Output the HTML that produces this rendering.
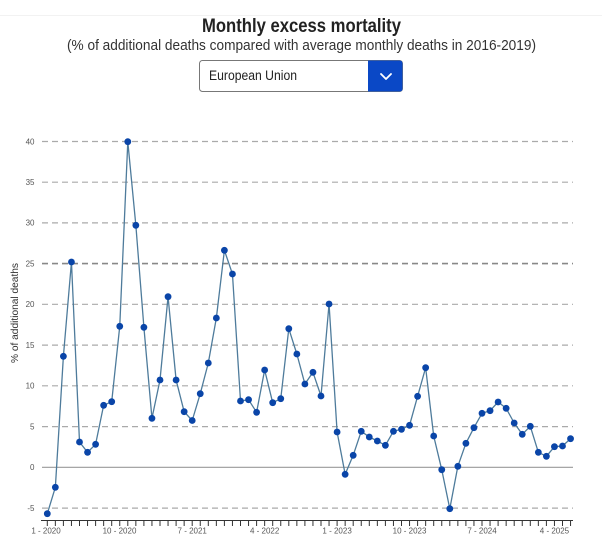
<!DOCTYPE html>
<html><head><meta charset="utf-8"><style>
html,body{margin:0;padding:0;background:#fff;}
svg{display:block;}
</style></head><body>
<svg width="602" height="537" viewBox="0 0 602 537" xmlns="http://www.w3.org/2000/svg" font-family="Liberation Sans, Arial, sans-serif">
<defs>
<marker id="dot" markerUnits="userSpaceOnUse" markerWidth="8" markerHeight="8" refX="4" refY="4" viewBox="0 0 8 8">
<circle cx="4" cy="4" r="3.4" fill="#0a45a8"/>
</marker>
</defs>
<rect width="602" height="537" fill="#fff"/>
<line x1="0" y1="15.5" x2="602" y2="15.5" stroke="#f2f2f2" stroke-width="1"/>
<text x="301.5" y="32" text-anchor="middle" font-size="19" font-weight="bold" fill="#222" textLength="199" lengthAdjust="spacingAndGlyphs">Monthly excess mortality</text>
<text x="301.5" y="50" text-anchor="middle" font-size="14.5" fill="#333" textLength="469" lengthAdjust="spacingAndGlyphs">(% of additional deaths compared with average monthly deaths in 2016-2019)</text>
<rect x="199.5" y="60.5" width="203" height="31" rx="3" ry="3" fill="#fff" stroke="#777" stroke-width="1"/>
<path d="M368 60.5 H399.5 Q402.5 60.5 402.5 63.5 V88.5 Q402.5 91.5 399.5 91.5 H368 Z" fill="#0a48c6"/>
<polyline points="381,74 386,79 391,74" fill="none" stroke="#fff" stroke-width="1.8" stroke-linecap="round" stroke-linejoin="round"/>
<text x="209" y="80" font-size="13.5" fill="#222" textLength="88" lengthAdjust="spacingAndGlyphs">European Union</text>
<g stroke="#aaa" stroke-width="1.2" stroke-dasharray="6,4">
<line x1="42" y1="141.5" x2="573" y2="141.5"/>
<line x1="42" y1="182.2" x2="573" y2="182.2"/>
<line x1="42" y1="222.9" x2="573" y2="222.9"/>
<line x1="42" y1="304.3" x2="573" y2="304.3"/>
<line x1="42" y1="345.1" x2="573" y2="345.1"/>
<line x1="42" y1="385.8" x2="573" y2="385.8"/>
<line x1="42" y1="426.6" x2="573" y2="426.6"/>
<line x1="42" y1="508.1" x2="573" y2="508.1"/>
</g>
<line x1="42" y1="263.6" x2="573" y2="263.6" stroke="#888" stroke-width="1.6" stroke-dasharray="6,4"/>
<line x1="42" y1="467.3" x2="573" y2="467.3" stroke="#999" stroke-width="1.1"/>
<g font-size="8" fill="#555" text-anchor="end">
<text x="34.5" y="144.3">40</text>
<text x="34.5" y="185">35</text>
<text x="34.5" y="225.7">30</text>
<text x="34.5" y="266.4">25</text>
<text x="34.5" y="307.1">20</text>
<text x="34.5" y="347.9">15</text>
<text x="34.5" y="388.6">10</text>
<text x="34.5" y="429.4">5</text>
<text x="34.5" y="470.1">0</text>
<text x="34.5" y="510.9">-5</text>
</g>
<text transform="translate(18,313) rotate(-90)" text-anchor="middle" font-size="10.5" fill="#333" textLength="100" lengthAdjust="spacingAndGlyphs">% of additional deaths</text>
<line x1="41" y1="520.5" x2="573" y2="520.5" stroke="#333" stroke-width="1"/>
<path stroke="#333" stroke-width="1" d="M47.3 520v6M55.35 520v6M63.4 520v6M71.45 520v6M79.5 520v6M87.55 520v6M95.6 520v6M103.65 520v6M111.7 520v6M119.75 520v6M127.8 520v6M135.85 520v6M143.9 520v6M151.95 520v6M160 520v6M168.05 520v6M176.1 520v6M184.15 520v6M192.2 520v6M200.25 520v6M208.3 520v6M216.35 520v6M224.4 520v6M232.45 520v6M240.5 520v6M248.55 520v6M256.6 520v6M264.65 520v6M272.7 520v6M280.75 520v6M288.8 520v6M296.85 520v6M304.9 520v6M312.95 520v6M321 520v6M329.05 520v6M337.1 520v6M345.15 520v6M353.2 520v6M361.25 520v6M369.3 520v6M377.35 520v6M385.4 520v6M393.45 520v6M401.5 520v6M409.55 520v6M417.6 520v6M425.65 520v6M433.7 520v6M441.75 520v6M449.8 520v6M457.85 520v6M465.9 520v6M473.95 520v6M482 520v6M490.05 520v6M498.1 520v6M506.15 520v6M514.2 520v6M522.25 520v6M530.3 520v6M538.35 520v6M546.4 520v6M554.45 520v6M562.5 520v6M570.55 520v6"/>
<g font-size="8" fill="#555" text-anchor="middle">
<text x="46" y="533.5">1 - 2020</text>
<text x="119.5" y="533.5">10 - 2020</text>
<text x="192.2" y="533.5">7 - 2021</text>
<text x="264.65" y="533.5">4 - 2022</text>
<text x="337.1" y="533.5">1 - 2023</text>
<text x="409.55" y="533.5">10 - 2023</text>
<text x="482" y="533.5">7 - 2024</text>
<text x="554.45" y="533.5">4 - 2025</text>
</g>
<polyline fill="none" stroke="#4e7b9b" stroke-width="1.3" stroke-linejoin="round" marker-start="url(#dot)" marker-mid="url(#dot)" marker-end="url(#dot)" points="47.3,513.7 55.35,487.3 63.4,356.3 71.45,262 79.5,442 87.55,452.3 95.6,444.3 103.65,405.3 111.7,401.7 119.75,326.3 127.8,141.7 135.85,225.3 143.9,327.3 151.95,418.3 160,380 168.05,296.7 176.1,380 184.15,411.7 192.2,420.5 200.25,393.7 208.3,363 216.35,318 224.4,250.3 232.45,274 240.5,401 248.55,399.7 256.6,412.3 264.65,370 272.7,402.7 280.75,398.7 288.8,328.7 296.85,354 304.9,384 312.95,372.3 321,396 329.05,304 337.1,432 345.15,474.3 353.2,455.3 361.25,431.3 369.3,437 377.35,441 385.4,445.3 393.45,431.3 401.5,429.3 409.55,425.3 417.6,396.3 425.65,367.7 433.7,436 441.75,469.7 449.8,508.7 457.85,466.3 465.9,443.3 473.95,427.7 482,413.3 490.05,410.7 498.1,402 506.15,408.3 514.2,423 522.25,434.3 530.3,426.3 538.35,452.3 546.4,456.3 554.45,446.7 562.5,446 570.55,438.7"/>
</svg>
</body></html>
